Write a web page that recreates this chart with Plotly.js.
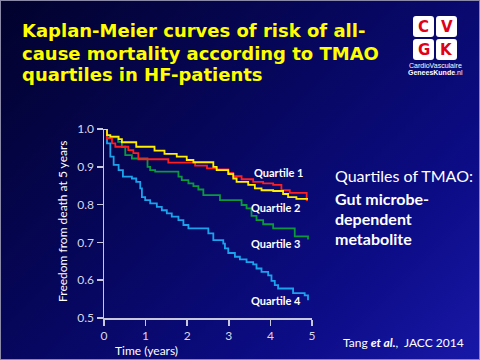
<!DOCTYPE html>
<html>
<head>
<meta charset="utf-8">
<script src="https://cdn.plot.ly/plotly-3.0.1.min.js"></script>
<style>
html,body{margin:0;padding:0;}
body{width:480px;height:360px;overflow:hidden;
background:linear-gradient(135deg,#02022c 0%,#06065a 40%,#0c0c86 75%,#1818a8 100%);}
#frame{position:absolute;left:0;top:0;width:478px;height:358px;border:1px solid #8a8aa8;}
#chart{position:absolute;left:0;top:0;width:480px;height:360px;}
</style>
</head>
<body>
<div id="frame"></div>
<div id="chart"></div>
<script>
// Kaplan-Meier step data (time in years, survival probability)
const q1Time = [0, 0.072, 0.192, 0.272, 0.585, 0.705, 0.825, 1.546, 2.19, 2.476, 2.716, 2.987, 3.107, 3.307, 3.586, 3.826, 4.066, 4.265, 4.465, 4.872, 4.904];
const q1Surv = [1.0, 0.975, 0.962, 0.953, 0.944, 0.936, 0.920, 0.911, 0.903, 0.896, 0.893, 0.884, 0.875, 0.867, 0.860, 0.856, 0.852, 0.838, 0.831, 0.812, 0.812];

const q2Time = [0, 0.072, 0.152, 0.351, 0.431, 0.775, 1.214, 1.454, 1.749, 1.989, 2.149, 2.628, 2.708, 2.987, 3.107, 3.187, 3.466, 3.626, 3.786, 4.066, 4.305, 4.425, 4.625, 4.904];
const q2Surv = [1.0, 0.984, 0.980, 0.973, 0.965, 0.953, 0.943, 0.934, 0.927, 0.918, 0.912, 0.900, 0.891, 0.881, 0.869, 0.860, 0.852, 0.843, 0.838, 0.836, 0.828, 0.820, 0.815, 0.815];

const q3Time = [0, 0.072, 0.34, 0.431, 0.511, 0.671, 1.046, 1.110, 1.230, 1.789, 1.869, 2.029, 2.149, 2.268, 2.388, 2.788, 3.307, 3.427, 3.546, 3.666, 3.826, 4.066, 4.585, 4.904];
const q3Surv = [1.0, 0.978, 0.966, 0.953, 0.931, 0.922, 0.900, 0.891, 0.887, 0.874, 0.865, 0.856, 0.849, 0.840, 0.825, 0.812, 0.799, 0.790, 0.770, 0.759, 0.748, 0.737, 0.716, 0.708];

const q4Time = [0, 0.072, 0.152, 0.232, 0.351, 0.455, 0.671, 0.775, 0.871, 0.911, 0.990, 1.110, 1.270, 1.390, 1.510, 1.629, 1.789, 1.909, 2.029, 2.508, 2.628, 2.867, 2.907, 2.987, 3.147, 3.267, 3.427, 3.586, 3.666, 3.786, 3.946, 4.026, 4.105, 4.185, 4.545, 4.824, 4.904];
const q4Surv = [1.0, 0.962, 0.927, 0.905, 0.891, 0.874, 0.869, 0.860, 0.843, 0.820, 0.812, 0.803, 0.794, 0.785, 0.777, 0.768, 0.759, 0.746, 0.737, 0.724, 0.706, 0.697, 0.684, 0.672, 0.662, 0.655, 0.648, 0.642, 0.631, 0.622, 0.613, 0.598, 0.587, 0.578, 0.566, 0.560, 0.547];

const seriesLabels = ["Quartile 1", "Quartile 2", "Quartile 3", "Quartile 4"];
const labelX = [4.2, 4.13, 4.13, 4.13];
const labelY = [0.886, 0.793, 0.697, 0.545];

const xTicks = [0, 1, 2, 3, 4, 5];
const yTicks = [0.5, 0.6, 0.7, 0.8, 0.9, 1.0];
const yTickText = ["0.5", "0.6", "0.7", "0.8", "0.9", "1.0"];

const titleLines = ["Kaplan-Meier curves of risk of all-", "cause mortality according to TMAO", "quartiles in HF-patients"];

// plot-area geometry (pixels) for converting decorations to paper coords
const L = 104, R = 312, T = 129, B = 318;
const px = v => (v - L) / (R - L);
const py = v => (B - v) / (B - T);

function step(x, y, color) {
  return {x: x, y: y, type: 'scatter', mode: 'lines', line: {shape: 'hv', color: color, width: 1.8},
          hoverinfo: 'skip', showlegend: false, cliponaxis: false};
}
const traces = [
  step(q4Time, q4Surv, '#1aa3ec'),
  step(q3Time, q3Surv, '#0a9a3c'),
  step(q1Time, q1Surv, '#ff1f1f'),
  step(q2Time, q2Surv, '#ffee00')
];

const font = 'Lato, "Open Sans", sans-serif';
const annotations = [];
seriesLabels.forEach((t, i) => annotations.push({x: labelX[i], y: labelY[i], xref: 'x', yref: 'y', text: '<b>' + t + '</b>',
  showarrow: false, font: {family: font, size: 11, color: '#ffffff'}}));

titleLines.forEach((t, i) => annotations.push({x: px(20), y: py(31 + i * 22), xref: 'paper', yref: 'paper', xanchor: 'left', yanchor: 'middle',
  text: '<b>' + t + '</b>', showarrow: false, font: {family: '"DejaVu Sans", sans-serif', size: 18, color: '#ffff00'}}));

annotations.push({x: px(333), y: py(175), xref: 'paper', yref: 'paper', xanchor: 'left', yanchor: 'middle',
  text: 'Quartiles of TMAO:', showarrow: false, font: {family: font, size: 16, color: '#ffffff'}});
['Gut microbe-', 'dependent', 'metabolite'].forEach((t, i) => annotations.push({x: px(333), y: py(198 + i * 20), xref: 'paper', yref: 'paper',
  xanchor: 'left', yanchor: 'middle', text: '<b>' + t + '</b>', showarrow: false, font: {family: font, size: 16, color: '#ffffff'}}));

annotations.push({x: px(146), y: py(350), xref: 'paper', yref: 'paper', xanchor: 'center', yanchor: 'middle',
  text: 'Time (years)', showarrow: false, font: {family: font, size: 12, color: '#ffffff'}});
annotations.push({x: px(62), y: py(222), xref: 'paper', yref: 'paper', xanchor: 'center', yanchor: 'middle', textangle: -90,
  text: 'Freedom from death at 5 years', showarrow: false, font: {family: font, size: 12, color: '#ffffff'}});
annotations.push({x: px(466), y: py(342), xref: 'paper', yref: 'paper', xanchor: 'right', yanchor: 'middle',
  text: 'Tang <b><i>et al.</i></b>,  JACC 2014', showarrow: false, font: {family: font, size: 12, color: '#ffffff'}});

// logo: rounded white tiles with red letters
const shapes = [];
const logoLetters = ['C', 'V', 'G', 'K'];
const boxX = [413, 436, 413, 436], boxY = [16, 16, 39, 39];
const S = 21, rr = 3;
function roundRect(x, y) {
  const P = (a, b) => px(a).toFixed(4) + ',' + py(b).toFixed(4);
  return 'M' + P(x + rr, y) + ' L' + P(x + S - rr, y) + ' Q' + P(x + S, y) + ' ' + P(x + S, y + rr) +
    ' L' + P(x + S, y + S - rr) + ' Q' + P(x + S, y + S) + ' ' + P(x + S - rr, y + S) +
    ' L' + P(x + rr, y + S) + ' Q' + P(x, y + S) + ' ' + P(x, y + S - rr) +
    ' L' + P(x, y + rr) + ' Q' + P(x, y) + ' ' + P(x + rr, y) + ' Z';
}
logoLetters.forEach((c, i) => {
  shapes.push({type: 'path', xref: 'paper', yref: 'paper', path: roundRect(boxX[i], boxY[i]),
    fillcolor: '#ffffff', line: {width: 0}, layer: 'below'});
  annotations.push({x: px(boxX[i] + 10.5), y: py(boxY[i] + 11), xref: 'paper', yref: 'paper', xanchor: 'center', yanchor: 'middle',
    text: '<b>' + c + '</b>', showarrow: false, font: {family: '"DejaVu Sans", sans-serif', size: 15, color: '#e00018'}});
});
annotations.push({x: px(435), y: py(65), xref: 'paper', yref: 'paper', xanchor: 'center', yanchor: 'middle',
  text: 'CardioVasculaire', showarrow: false, font: {family: '"Liberation Sans Narrow", "Liberation Sans", sans-serif', size: 7, color: '#ffffff'}});
annotations.push({x: px(435), y: py(72), xref: 'paper', yref: 'paper', xanchor: 'center', yanchor: 'middle',
  text: '<b>GeneesKunde</b>.nl', showarrow: false, font: {family: '"Liberation Sans Narrow", "Liberation Sans", sans-serif', size: 7, color: '#ffffff'}});

const axisCommon = {showline: true, linecolor: '#c8c8dc', linewidth: 1.5, ticks: 'outside', ticklen: 6, tickwidth: 1.5,
  tickcolor: '#c8c8dc', showgrid: false, zeroline: false, fixedrange: true,
  tickfont: {family: font, size: 12, color: '#d8d8e8'}};

const layout = {
  width: 480, height: 360,
  margin: {l: L, r: 480 - R, t: T, b: 360 - B, pad: 0},
  paper_bgcolor: 'rgba(0,0,0,0)', plot_bgcolor: 'rgba(0,0,0,0)',
  xaxis: Object.assign({}, axisCommon, {range: [0, 5], tickvals: xTicks, ticktext: xTicks.map(String)}),
  yaxis: Object.assign({}, axisCommon, {range: [0.5, 1.0], tickvals: yTicks, ticktext: yTickText}),
  annotations: annotations, shapes: shapes, showlegend: false
};
Plotly.newPlot('chart', traces, layout, {displayModeBar: false, staticPlot: true});
</script>
</body>
</html>
